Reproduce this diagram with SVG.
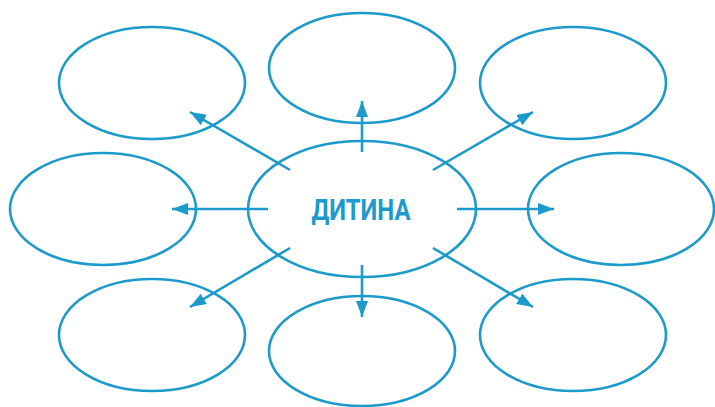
<svg xmlns="http://www.w3.org/2000/svg" width="715" height="407" viewBox="0 0 715 407">
<style>
.n{fill:none;stroke:#1b9acb;stroke-width:2.6}
.c{stroke:#1b9acb;stroke-width:2.6;fill:none}
.t{font-family:Roboto,"Liberation Sans",sans-serif;font-weight:bold;fill:#1b9acb}
</style>
<defs>
<marker id="a" markerUnits="userSpaceOnUse" markerWidth="18" markerHeight="14" refX="16" refY="6" orient="auto">
<path d="M0,0 L16,6 L0,12 Z" fill="#1b9acb"/>
</marker>
</defs>
<rect width="715" height="407" fill="#fff"/>
<g id="center"><ellipse class="n" cx="362" cy="209" rx="114" ry="68"/><text class="t" x="361" y="220" font-size="29" text-anchor="middle" textLength="99" lengthAdjust="spacingAndGlyphs">ДИТИНА</text></g>
<g id="top-left"><ellipse class="n" cx="152" cy="83" rx="93" ry="56"/></g>
<g id="top"><ellipse class="n" cx="362" cy="68" rx="93" ry="55"/></g>
<g id="top-right"><ellipse class="n" cx="573" cy="83" rx="93" ry="56"/></g>
<g id="left"><ellipse class="n" cx="103" cy="209" rx="93" ry="56"/></g>
<g id="right"><ellipse class="n" cx="621" cy="209" rx="93" ry="56"/></g>
<g id="bottom-left"><ellipse class="n" cx="152" cy="335" rx="93" ry="56"/></g>
<g id="bottom"><ellipse class="n" cx="362" cy="351" rx="93" ry="55"/></g>
<g id="bottom-right"><ellipse class="n" cx="573" cy="335" rx="93" ry="56"/></g>
<g id="connectors">
<line class="c" x1="362" y1="152" x2="362" y2="101" marker-end="url(#a)"/>
<line class="c" x1="362" y1="265" x2="362" y2="317" marker-end="url(#a)"/>
<line class="c" x1="268" y1="209" x2="172" y2="209" marker-end="url(#a)"/>
<line class="c" x1="457" y1="209" x2="554" y2="209" marker-end="url(#a)"/>
<line class="c" x1="290" y1="170" x2="190" y2="112" marker-end="url(#a)"/>
<line class="c" x1="433" y1="170" x2="533" y2="112" marker-end="url(#a)"/>
<line class="c" x1="290" y1="248" x2="190" y2="307" marker-end="url(#a)"/>
<line class="c" x1="433" y1="248" x2="533" y2="307" marker-end="url(#a)"/>
</g>
</svg>
